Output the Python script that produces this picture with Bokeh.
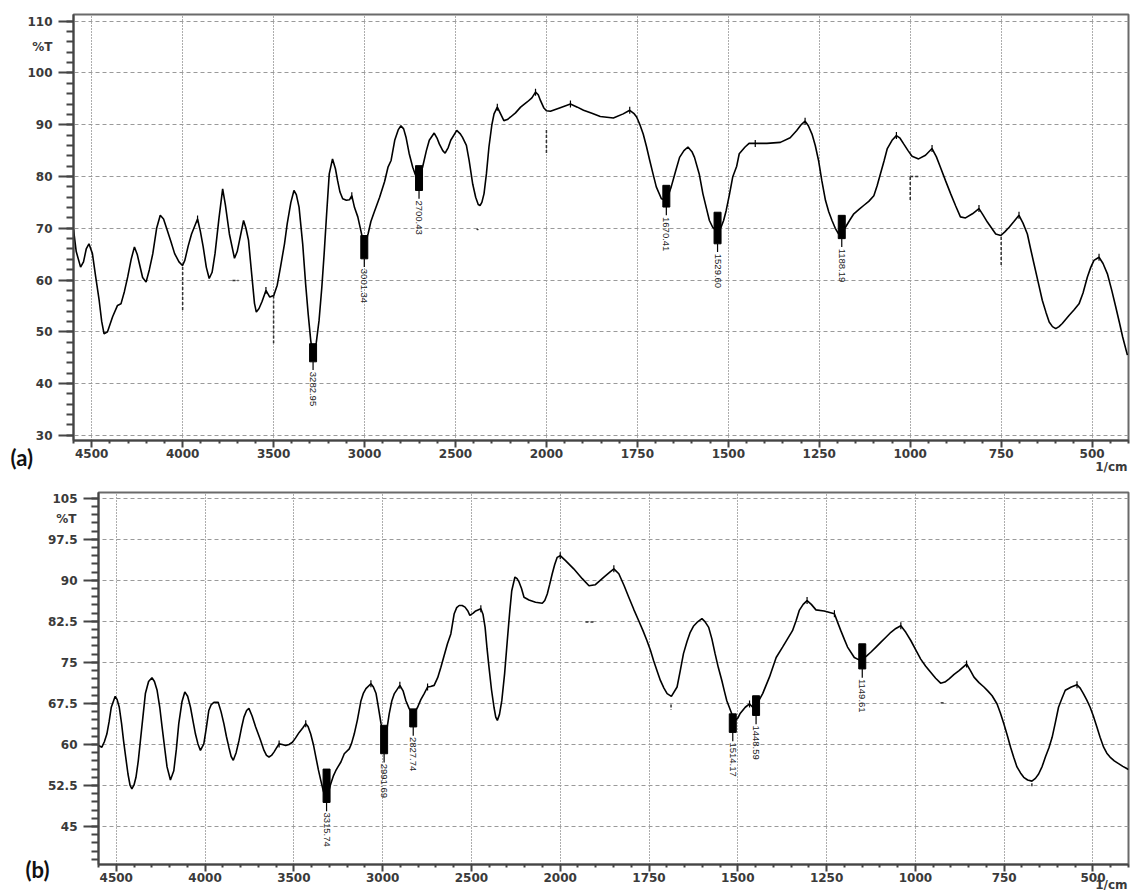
import numpy as np
from bokeh.plotting import figure
from bokeh.layouts import column, row
from bokeh.models import Range1d, FixedTicker, CustomJSTickFormatter, Label
from bokeh.embed import file_html
from bokeh.resources import INLINE
from bokeh.core.properties import value

# ---------------- data : panel (a) ----------------
a_wn = [4600, 4585, 4561, 4545, 4530, 4515, 4496, 4478, 4459, 4445, 4432, 4413, 4385, 4358, 4339, 4320,
        4302, 4283, 4265, 4250, 4238, 4220, 4201, 4183, 4164, 4143, 4123, 4105, 4090, 4065, 4044, 4020,
        4001, 3988, 3970, 3951, 3918, 3903, 3887, 3870, 3854, 3838, 3822, 3800, 3780, 3765, 3743, 3715,
        3700, 3687, 3665, 3652, 3638, 3620, 3605, 3595, 3580, 3564, 3542, 3521, 3499, 3480, 3462, 3440,
        3425, 3405, 3388, 3375, 3360, 3340, 3324, 3310, 3296, 3282, 3265, 3250, 3235, 3222, 3208, 3194,
        3176, 3160, 3148, 3135, 3120, 3100, 3083, 3070, 3055, 3037, 3020, 3009, 2995, 2980, 2965, 2950,
        2917, 2890, 2871, 2854, 2834, 2815, 2800, 2785, 2772, 2755, 2735, 2720, 2708, 2695, 2681, 2660,
        2644, 2617, 2600, 2589, 2570, 2557, 2540, 2526, 2493, 2475, 2462, 2440, 2425, 2405, 2389, 2375,
        2365, 2355, 2343, 2330, 2316, 2300, 2288, 2270, 2252, 2234, 2215, 2197, 2170, 2142, 2106, 2080,
        2060, 2045, 2033, 2015, 2000, 1989, 1962, 1934, 1915, 1898, 1875, 1852, 1816, 1789, 1771, 1760,
        1752, 1743, 1734, 1725, 1716, 1707, 1698, 1684, 1670, 1657, 1645, 1634, 1622, 1611, 1600, 1593,
        1580, 1570, 1560, 1552, 1543, 1534, 1520, 1513, 1506, 1497, 1488, 1477, 1470, 1454, 1443, 1426,
        1394, 1357, 1330, 1312, 1300, 1289, 1280, 1270, 1261, 1252, 1243, 1233, 1224, 1215, 1206, 1197,
        1188, 1178, 1166, 1155, 1140, 1128, 1114, 1100, 1091, 1082, 1072, 1063, 1050, 1038, 1028, 1018,
        1006, 995, 977, 958, 940, 928, 917, 903, 889, 875, 862, 848, 829, 811, 800, 788,
        776, 765, 751, 740, 728, 715, 701, 690, 678, 669, 660, 648, 637, 627, 618, 609,
        600, 591, 582, 563, 550, 536, 525, 513, 504, 495, 481, 470, 458, 446, 435, 425,
        416, 403]
a_T = [69.8, 65.5, 62.5, 63.5, 66.0, 67.0, 65.1, 60.6, 56.1, 52.0, 49.6, 50.0, 52.9, 55.1, 55.4, 57.8,
       60.6, 64.0, 66.4, 65.0, 63.2, 60.5, 59.6, 62.0, 65.1, 70.0, 72.5, 71.8, 70.2, 67.5, 65.1, 63.5,
       62.8, 63.8, 66.5, 68.9, 71.8, 69.5, 66.4, 62.5, 60.3, 61.5, 65.1, 72.0, 77.6, 74.5, 68.9, 64.2,
       65.5, 67.7, 71.5, 70.0, 67.7, 61.0, 55.5, 53.8, 54.5, 55.8, 58.0, 56.7, 57.0, 59.0, 62.5, 67.0,
       70.9, 75.0, 77.3, 76.5, 74.1, 67.0, 59.3, 53.5, 48.4, 44.8, 48.0, 52.2, 58.5, 65.1, 73.0, 80.5,
       83.4, 81.5, 79.2, 77.0, 75.7, 75.4, 75.5, 76.3, 74.0, 72.2, 69.5, 67.7, 67.2, 69.0, 71.3, 72.8,
       76.0, 79.0, 81.8, 83.1, 87.0, 89.0, 89.8, 89.2, 87.6, 84.5, 81.8, 80.3, 79.9, 80.3, 81.8, 85.0,
       87.0, 88.4, 87.3, 86.3, 85.0, 84.5, 85.6, 87.0, 88.9, 88.3, 87.6, 86.0, 83.1, 78.5, 76.0, 74.6,
       74.4, 75.0, 76.7, 80.5, 85.7, 90.0, 92.1, 93.4, 92.1, 90.8, 91.0, 91.5, 92.3, 93.4, 94.4, 95.2,
       96.3, 95.8, 94.7, 93.3, 92.7, 92.6, 93.3, 94.0, 93.4, 92.8, 92.2, 91.6, 91.3, 92.1, 92.8, 92.2,
       91.5, 90.0, 88.2, 85.8, 83.1, 80.5, 78.0, 75.7, 75.4, 78.0, 81.0, 83.7, 85.0, 85.7, 84.8, 83.7,
       80.5, 76.7, 73.8, 71.5, 70.2, 69.6, 70.2, 71.5, 73.4, 76.5, 79.9, 82.0, 84.4, 85.7, 86.4, 86.4,
       86.4, 86.6, 87.5, 88.9, 90.0, 90.7, 89.8, 88.2, 86.0, 83.1, 79.2, 75.4, 73.2, 71.5, 70.0, 68.9,
       69.3, 70.2, 71.6, 72.8, 73.7, 74.4, 75.2, 76.3, 78.2, 80.5, 83.0, 85.4, 87.0, 87.9, 87.4, 86.3,
       85.0, 83.9, 83.4, 84.1, 85.4, 83.8, 81.8, 79.2, 76.7, 74.3, 72.2, 72.0, 72.8, 73.8, 72.6, 71.2,
       70.0, 68.9, 68.6, 69.3, 70.2, 71.3, 72.5, 71.0, 68.9, 66.0, 63.2, 59.5, 56.1, 53.8, 51.9, 51.0,
       50.6, 51.0, 51.6, 53.2, 54.2, 55.4, 57.5, 60.6, 62.4, 63.8, 64.4, 63.2, 61.2, 58.0, 54.8, 51.8,
       49.0, 45.5]

a_peak_wn = [3282.95, 3001.34, 2700.43, 1670.41, 1529.60, 1188.19]
a_peak_lbl = ["3282.95", "3001.34", "2700.43", "1670.41", "1529.60", "1188.19"]
a_peak_top = [47.7, 68.6, 82.1, 78.3, 73.1, 72.5]
a_peak_bot = [44.2, 64.1, 77.3, 74.1, 67.0, 68.0]

a_tops_wn = [3918, 3542, 3070, 2270, 2060, 1934, 1771, 1426, 1289, 1038, 940, 811, 701, 481]
a_tops_T = [71.8, 58.0, 76.3, 93.4, 96.3, 94.0, 92.8, 86.4, 90.7, 87.9, 85.4, 73.8, 72.5, 64.4]

# faint leftover marker strokes (start wn, start %T, end wn, end %T)
a_ghost_wn0 = [4000, 3500, 2000, 1000, 1000, 750, 3726, 2384]
a_ghost_T0 = [62.5, 57.0, 89.0, 79.9, 80.0, 68.3, 59.9, 69.9]
a_ghost_wn1 = [4000, 3500, 2000, 1000, 972, 750, 3693, 2374]
a_ghost_T1 = [54.2, 47.8, 84.5, 75.3, 80.0, 62.6, 59.9, 69.7]

a_yticks = [30, 40, 50, 60, 70, 80, 90, 100, 110]

# ---------------- data : panel (b) ----------------
b_wn = [4600, 4581, 4567, 4553, 4540, 4528, 4506, 4495, 4483, 4470, 4459, 4446, 4434, 4422, 4412, 4400,
        4389, 4376, 4364, 4350, 4336, 4318, 4299, 4285, 4270, 4255, 4242, 4228, 4214, 4195, 4176, 4162,
        4148, 4130, 4114, 4098, 4082, 4068, 4054, 4040, 4026, 4007, 3993, 3979, 3965, 3950, 3926, 3910,
        3894, 3880, 3866, 3853, 3841, 3825, 3809, 3795, 3781, 3766, 3753, 3735, 3715, 3690, 3668, 3654,
        3640, 3626, 3612, 3595, 3583, 3565, 3546, 3527, 3508, 3490, 3470, 3450, 3433, 3420, 3405, 3390,
        3376, 3362, 3348, 3334, 3320, 3306, 3292, 3278, 3264, 3250, 3235, 3216, 3188, 3175, 3160, 3142,
        3122, 3108, 3094, 3066, 3052, 3037, 3025, 3009, 2991, 2975, 2963, 2948, 2934, 2903, 2885, 2869,
        2850, 2831, 2818, 2803, 2785, 2766, 2747, 2730, 2710, 2690, 2672, 2654, 2635, 2616, 2597, 2583,
        2569, 2552, 2536, 2520, 2509, 2490, 2476, 2447, 2435, 2423, 2412, 2401, 2387, 2373, 2363, 2354,
        2342, 2329, 2313, 2298, 2285, 2273, 2255, 2243, 2232, 2218, 2204, 2176, 2139, 2101, 2087, 2073,
        2059, 2045, 2031, 2017, 2000, 1985, 1962, 1938, 1919, 1901, 1877, 1862, 1849, 1835, 1820, 1807,
        1793, 1779, 1767, 1756, 1746, 1737, 1727, 1718, 1708, 1699, 1687, 1671, 1662, 1653, 1643, 1634,
        1625, 1615, 1601, 1592, 1582, 1573, 1564, 1555, 1545, 1538, 1531, 1524, 1517, 1508, 1500, 1494,
        1479, 1467, 1458, 1446, 1430, 1411, 1392, 1374, 1360, 1346, 1336, 1327, 1316, 1305, 1293, 1280,
        1257, 1228, 1220, 1210, 1200, 1191, 1172, 1160, 1149, 1137, 1125, 1111, 1097, 1083, 1069, 1055,
        1041, 1027, 1013, 999, 985, 971, 957, 943, 929, 917, 905, 891, 877, 856, 845, 835,
        821, 807, 795, 784, 770, 760, 751, 741, 732, 723, 714, 704, 695, 684, 672, 662,
        653, 643, 634, 624, 615, 606, 597, 587, 578, 561, 545, 536, 527, 518, 508, 499,
        489, 480, 470, 461, 452, 440, 428, 416, 405, 400]
b_T = [59.8, 59.5, 60.5, 61.9, 64.2, 66.8, 68.8, 68.2, 66.8, 63.8, 60.7, 57.5, 54.6, 52.5, 51.9, 52.6,
       54.0, 57.0, 60.7, 65.0, 69.3, 71.5, 72.2, 71.5, 69.9, 66.8, 63.2, 59.5, 55.9, 53.5, 55.2, 59.0,
       63.8, 67.8, 69.6, 68.8, 66.8, 64.3, 61.9, 60.1, 58.9, 60.1, 63.0, 66.2, 67.3, 67.7, 67.7, 66.0,
       63.8, 61.5, 59.5, 57.8, 57.1, 58.5, 60.7, 63.0, 65.0, 66.2, 66.6, 65.2, 63.2, 61.0, 58.9, 58.0,
       57.7, 58.0, 58.6, 59.5, 60.1, 60.0, 59.8, 60.0, 60.4, 61.2, 62.2, 63.0, 63.8, 63.3, 61.9, 60.0,
       57.7, 55.4, 53.4, 51.5, 50.1, 51.2, 52.8, 54.2, 55.2, 56.0, 56.8, 58.3, 59.2, 60.2, 61.9, 64.5,
       68.0, 69.4, 70.2, 71.1, 70.5, 69.3, 67.0, 63.8, 61.3, 63.0, 65.6, 68.0, 69.3, 70.8, 69.8, 68.0,
       66.5, 65.6, 66.0, 66.8, 68.2, 69.3, 70.5, 70.6, 70.8, 72.2, 74.1, 76.2, 78.4, 80.2, 83.9, 85.0,
       85.4, 85.4, 85.1, 84.4, 83.6, 84.0, 84.4, 84.8, 83.8, 81.4, 77.5, 74.1, 70.0, 66.8, 65.0, 64.4,
       65.5, 68.0, 73.0, 79.0, 84.0, 88.1, 90.6, 90.3, 89.7, 88.5, 86.9, 86.4, 86.0, 85.8, 86.3, 87.5,
       89.3, 91.2, 92.9, 94.2, 94.5, 93.6, 92.1, 90.3, 89.0, 89.2, 90.6, 91.4, 92.1, 91.2, 89.0, 86.9,
       84.7, 82.6, 80.8, 79.0, 77.2, 75.3, 73.4, 71.7, 70.3, 69.3, 68.8, 70.5, 73.5, 76.6, 78.8, 80.5,
       81.6, 82.3, 83.0, 82.4, 81.4, 79.3, 76.6, 74.1, 71.7, 69.8, 68.0, 66.8, 65.6, 64.4, 64.8, 65.6,
       66.8, 67.4, 66.8, 67.4, 69.3, 72.3, 75.9, 77.8, 79.3, 80.8, 82.6, 84.5, 85.6, 86.3, 85.6, 84.6,
       84.4, 83.9, 82.5, 80.8, 79.2, 77.8, 75.9, 75.5, 75.6, 76.2, 76.9, 77.8, 78.7, 79.6, 80.5, 81.2,
       81.7, 80.5, 79.0, 77.3, 75.6, 74.3, 73.2, 72.1, 71.2, 71.4, 72.0, 72.8, 73.5, 74.7, 73.5, 72.3,
       71.3, 70.5, 69.7, 68.9, 67.4, 65.6, 63.8, 61.6, 59.5, 57.6, 55.9, 54.8, 54.0, 53.5, 53.3, 53.8,
       54.6, 56.0, 57.7, 59.4, 61.3, 64.0, 66.8, 68.5, 69.9, 70.5, 70.9, 70.3, 69.3, 68.2, 66.8, 65.2,
       63.2, 61.3, 59.5, 58.4, 57.7, 57.0, 56.5, 56.0, 55.6, 55.4]

b_peak_wn = [3315.74, 2991.69, 2827.74, 1514.17, 1448.59, 1149.61]
b_peak_lbl = ["3315.74", "2991.69", "2827.74", "1514.17", "1448.59", "1149.61"]
b_peak_top = [55.5, 63.5, 66.5, 65.6, 68.9, 78.4]
b_peak_bot = [49.4, 58.3, 63.2, 62.2, 65.3, 73.8]

b_tops_wn = [3583, 3433, 3066, 2903, 2747, 2447, 2000, 1849, 1467, 1305, 1228, 1041, 856, 545]
b_tops_T = [60.1, 63.8, 71.1, 70.8, 70.5, 84.8, 94.5, 92.1, 67.4, 86.3, 83.9, 81.7, 74.7, 70.9]

b_ghost_wn0 = [1688, 1929, 929, 672]
b_ghost_T0 = [67.3, 82.4, 67.6, 52.9]
b_ghost_wn1 = [1688, 1905, 916, 672]
b_ghost_T1 = [66.3, 82.4, 67.6, 52.3]

b_yticks = [45, 52.5, 60, 67.5, 75, 82.5, 90, 97.5, 105]

x_ticks_wn = [4500, 4000, 3500, 3000, 2500, 2000, 1750, 1500, 1250, 1000, 750, 500]


def to_axis(wn):
    """Shimadzu style scale: above 2000 1/cm the axis is compressed 2:1."""
    wn = np.asarray(wn, dtype=float)
    return np.where(wn > 2000, 2000 + (wn - 2000) / 2.0, wn)


X_FMT = CustomJSTickFormatter(code="""
    const w = tick > 2000 ? 2000 + 2 * (tick - 2000) : tick;
    return String(Math.round(w));
""")
Y_FMT = CustomJSTickFormatter(code="return String(Math.round(tick * 10) / 10);")

TICK_FONT = "DejaVu Sans"
TICK_COLOR = "#3a3a3a"
X_LO, X_HI = float(to_axis(4600)), float(to_axis(400))


def txt(**kw):
    base = dict(text_font=TICK_FONT, text_font_style="bold", text_font_size="12px",
                text_color=TICK_COLOR)
    base.update(kw)
    return Label(**base)


def panel(wn, T, pk_wn, pk_lbl, pk_top, pk_bot, tops_wn, tops_T, ghosts, yticks, yminor_step,
          y0, y1, height, border_left, border_top, border_bottom):
    p = figure(width=1130, height=height, output_backend="svg", toolbar_location=None,
               x_range=Range1d(X_LO, X_HI), y_range=Range1d(y0, y1),
               min_border_left=border_left, min_border_right=2,
               min_border_top=border_top, min_border_bottom=border_bottom,
               background_fill_color="white", border_fill_color="white")
    p.outline_line_color = "#6a6a6a"
    p.outline_line_width = 2

    # x axis
    majors = [float(v) for v in to_axis(x_ticks_wn)]
    minors = [float(v) for v in np.arange(400, 3301, 50) if float(v) not in majors]
    p.xaxis.ticker = FixedTicker(ticks=majors, minor_ticks=minors)
    p.xaxis.formatter = X_FMT
    p.xaxis.major_tick_out = 7
    p.xaxis.major_tick_in = 0
    p.xaxis.minor_tick_out = 3
    p.xaxis.minor_tick_in = 0
    p.xaxis.major_label_standoff = 1

    # y axis
    ymin = [round(v, 2) for v in np.arange(yticks[0] - 4 * yminor_step, y1, yminor_step)
            if y0 <= v <= y1]
    p.yaxis.ticker = FixedTicker(ticks=yticks, minor_ticks=ymin)
    p.yaxis.formatter = Y_FMT
    p.yaxis.major_tick_out = 15
    p.yaxis.major_tick_in = 0
    p.yaxis.minor_tick_out = 7
    p.yaxis.minor_tick_in = 0
    p.yaxis.major_label_standoff = 6

    for ax in (p.xaxis, p.yaxis):
        ax.axis_line_color = "#454545"
        ax.axis_line_width = 2
        ax.major_tick_line_color = "#454545"
        ax.major_tick_line_width = 2
        ax.minor_tick_line_color = "#454545"
        ax.minor_tick_line_width = 2
        ax.major_label_text_font = TICK_FONT
        ax.major_label_text_font_style = "bold"
        ax.major_label_text_font_size = "12px"
        ax.major_label_text_color = TICK_COLOR

    p.xgrid.grid_line_color = "#5a5a5a"
    p.xgrid.grid_line_dash = "1 2"
    p.xgrid.grid_line_width = 1
    p.ygrid.grid_line_color = "#9a9a9a"
    p.ygrid.grid_line_dash = "4 3"
    p.ygrid.grid_line_width = 1

    # faint leftover marker strokes
    gw0, gt0, gw1, gt1 = ghosts
    p.segment(x0=to_axis(gw0), y0=gt0, x1=to_axis(gw1), y1=gt1,
              line_color="#333333", line_width=1.5, line_dash="3 2")

    # spectrum
    p.line(to_axis(wn), T, line_color="black", line_width=1.6)

    # small marks at peak tops
    p.scatter(to_axis(tops_wn), tops_T, marker="dash", angle=np.pi / 2, size=7,
              line_color="black", line_width=1.2)

    # picked peaks: block, lead and rotated label
    px = to_axis(pk_wn)
    top = np.asarray(pk_top)
    bot = np.asarray(pk_bot)
    p.rect(x=px, y=(top + bot) / 2, width=7, width_units="screen", height=top - bot,
           fill_color="black", line_color="black")
    p.segment(x0=px, y0=bot, x1=px, y1=bot - 1.6, line_color="black", line_width=1.2)
    p.text(x=px, y=bot, text=pk_lbl, angle=-np.pi / 2, y_offset=10,
           text_align="left", text_baseline="middle",
           text_font=value("Liberation Sans"), text_font_size="9.5px",
           text_color="#222222")
    return p


# ---- panel (a): frame 73..1128 x 13..440 ----
pa = panel(a_wn, a_T, a_peak_wn, a_peak_lbl, a_peak_top, a_peak_bot, a_tops_wn, a_tops_T,
           (a_ghost_wn0, a_ghost_T0, a_ghost_wn1, a_ghost_T1),
           a_yticks, 2, 29.0, 111.3, 478, 73, 13, 38)
pa.add_layout(txt(x=X_LO, y=105, x_offset=-21, text="%T", text_align="right",
                  text_baseline="middle"), "above")
pa.add_layout(txt(x=X_HI, y=29.0, x_offset=-1, y_offset=-19, text="1/cm",
                  text_align="right", text_baseline="top"), "below")
pa.add_layout(Label(x=X_LO, y=29.0, x_offset=-63, y_offset=-3, text="(a)",
                    text_align="left", text_baseline="top", text_font="Lato",
                    text_font_style="bold", text_font_size="22px",
                    text_color="#111111"), "left")

# ---- panel (b): frame 96..1128 x ~492..864 ----
pb = panel(b_wn, b_T, b_peak_wn, b_peak_lbl, b_peak_top, b_peak_bot, b_tops_wn, b_tops_T,
           (b_ghost_wn0, b_ghost_T0, b_ghost_wn1, b_ghost_T1),
           b_yticks, 1.5, 38.06, 106.05, 412, 96, 8, 26)
pb.add_layout(txt(x=X_LO, y=101.25, x_offset=-22, text="%T", text_align="right",
                  text_baseline="middle"), "left")
pb.add_layout(txt(x=X_HI, y=38.06, x_offset=-1, y_offset=-13, text="1/cm",
                  text_align="right", text_baseline="top"), "above")
pb.add_layout(Label(x=X_LO, y=38.06, x_offset=-73, y_offset=9, text="(b)",
                    text_align="left", text_baseline="top", text_font="Lato",
                    text_font_style="bold", text_font_size="22px",
                    text_color="#111111"), "left")

layout = column(row(pa), row(pb))
open("out.html", "w").write(file_html(layout, INLINE))
